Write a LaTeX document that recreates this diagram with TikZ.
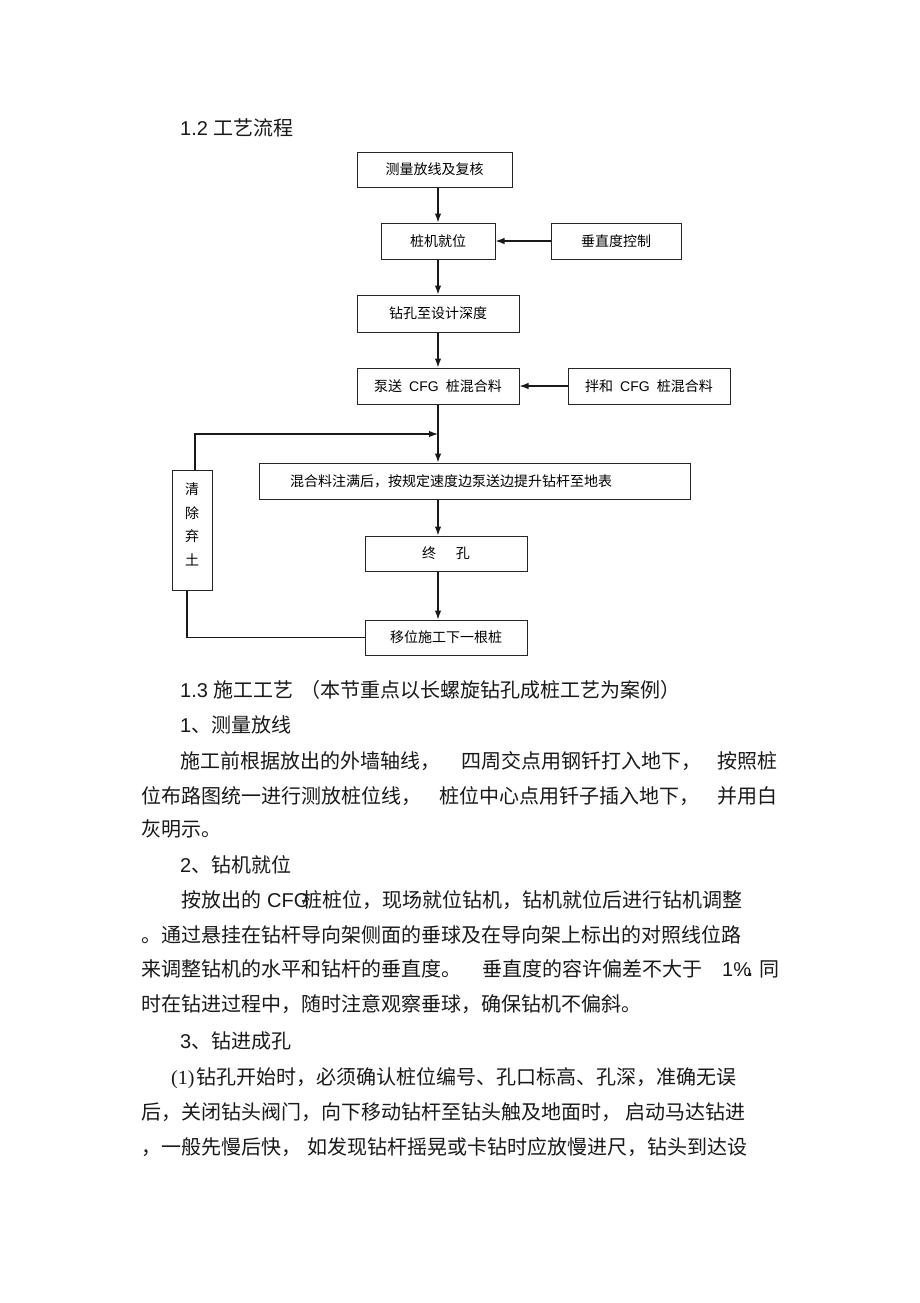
\documentclass[tikz,border=0pt]{standalone}
\usepackage{fontspec}
\setmainfont{Noto Sans CJK SC}
\newfontfamily\lat{Liberation Sans}
\newfontfamily\serifnum{Liberation Serif}
\usetikzlibrary{arrows.meta}
\tikzset{
  box/.style={draw=black!85, line width=1pt, inner sep=0pt, font=\fontsize{14pt}{16pt}\selectfont},
  arr/.style={line width=1.2pt, draw=black!90, -{Latex[length=9pt,width=6.5pt]}},
  conn/.style={line width=1.2pt, draw=black!90},
  txt/.style={anchor=west, inner sep=0pt, font=\fontsize{20pt}{24pt}\selectfont, text=black!90},
}
\begin{document}
\begin{tikzpicture}[x=1pt,y=-1pt]
\useasboundingbox (0,0) rectangle (920,1303);
\fill[white] (0,0) rectangle (920,1303);

% ---- heading
\node[txt] (h12) at (180,128) {{\lat 1.2 }工艺流程};

% ---- flowchart
\coordinate (fx) at (438,0);
\node[box, minimum width=155pt, minimum height=35pt] (b1) at (434.5,169.5) {测量放线及复核};
\node[box, minimum width=114pt, minimum height=36pt] (b2) at (438,241) {桩机就位};
\node[box, minimum width=130pt, minimum height=36pt] (r1) at (616,241) {垂直度控制};
\node[box, minimum width=162pt, minimum height=37pt] (b3) at (438,313.5) {钻孔至设计深度};
\node[box, minimum width=162pt, minimum height=36pt] (b4) at (438,386) {泵送\hspace{7pt}{\lat CFG}\hspace{7pt}桩混合料};
\node[box, minimum width=162pt, minimum height=36pt] (r2) at (649,386) {拌和\hspace{7pt}{\lat CFG}\hspace{7pt}桩混合料};
\node[box, minimum width=431pt, minimum height=36pt, text width=369pt, align=left] (b5) at (474.5,481) {混合料注满后，按规定速度边泵送边提升钻杆至地表};
\node[box, minimum width=162pt, minimum height=35pt] (b6) at (446,553.5) {终\hspace{20pt}孔};
\node[box, minimum width=162pt, minimum height=35pt] (b7) at (446,637.5) {移位施工下一根桩};
\node[box, minimum width=40pt, minimum height=120pt] (c) at (192,530) {};
\node[inner sep=0pt, align=center, font=\fontsize{14pt}{23.7pt}\selectfont] (ct) at (192,524.5) {清\\除\\弃\\土};

\coordinate (j) at (438,434);
\coordinate (cx1) at (195,0);
\coordinate (cx2) at (187,0);

\draw[arr] (b1.south -| fx) -- (b2.north -| fx);
\draw[arr] (r1.west) -- (b2.east);
\draw[arr] (b2.south -| fx) -- (b3.north -| fx);
\draw[arr] (b3.south -| fx) -- (b4.north -| fx);
\draw[arr] (r2.west) -- (b4.east);
\draw[arr] (b4.south -| fx) -- (b5.north -| fx);
\draw[arr] (c.north -| cx1) |- (j);
\draw[arr] (b5.south -| fx) -- (b6.north -| fx);
\draw[arr] (b6.south -| fx) -- (b7.north -| fx);
\draw[conn] (c.south -| cx2) |- (b7.west);

% ---- body text
\node[txt] (h13) at (180,690) {{\lat 1.3 }施工工艺\hspace{7pt}（本节重点以长螺旋钻孔成桩工艺为案例）};
\node[txt] (s1) at (180,725) {{\lat 1}、测量放线};
\node[txt] (l1) at (180,761) {施工前根据放出的外墙轴线，\hspace{21pt}四周交点用钢钎打入地下，\hspace{16pt}按照桩};
\node[txt] (l2) at (141,796) {位布路图统一进行测放桩位线，\hspace{18pt}桩位中心点用钎子插入地下，\hspace{18pt}并用白};
\node[txt] (l3) at (141,829) {灰明示。};
\node[txt] (s2) at (180,865) {{\lat 2}、钻机就位};
\node[txt] (l4) at (181,900) {按放出的\hspace{6pt}{\lat CFG}\hspace{-7pt}桩桩位，现场就位钻机，钻机就位后进行钻机调整};
\node[txt] (l5) at (141,935) {。通过悬挂在钻杆导向架侧面的垂球及在导向架上标出的对照线位路};
\node[txt] (l6) at (141,969) {来调整钻机的水平和钻杆的垂直度。\hspace{21pt}垂直度的容许偏差不大于\hspace{20pt}{\lat 1\%}\hspace{-4pt}{\lat\bfseries .}\hspace{7pt}同};
\node[txt] (l7) at (141,1004) {时在钻进过程中，随时注意观察垂球，确保钻机不偏斜。};
\node[txt] (s3) at (180,1041) {{\lat 3}、钻进成孔};
\node[txt] (l8) at (171,1078) {{\serifnum (1)}\hspace{2pt}钻孔开始时，必须确认桩位编号、孔口标高、孔深，准确无误};
\node[txt] (l9) at (141,1112) {后，关闭钻头阀门，向下移动钻杆至钻头触及地面时，\hspace{4pt}启动马达钻进};
\node[txt] (l10) at (141,1147) {，一般先慢后快，\hspace{6pt}如发现钻杆摇晃或卡钻时应放慢进尺，钻头到达设};
\end{tikzpicture}
\end{document}
